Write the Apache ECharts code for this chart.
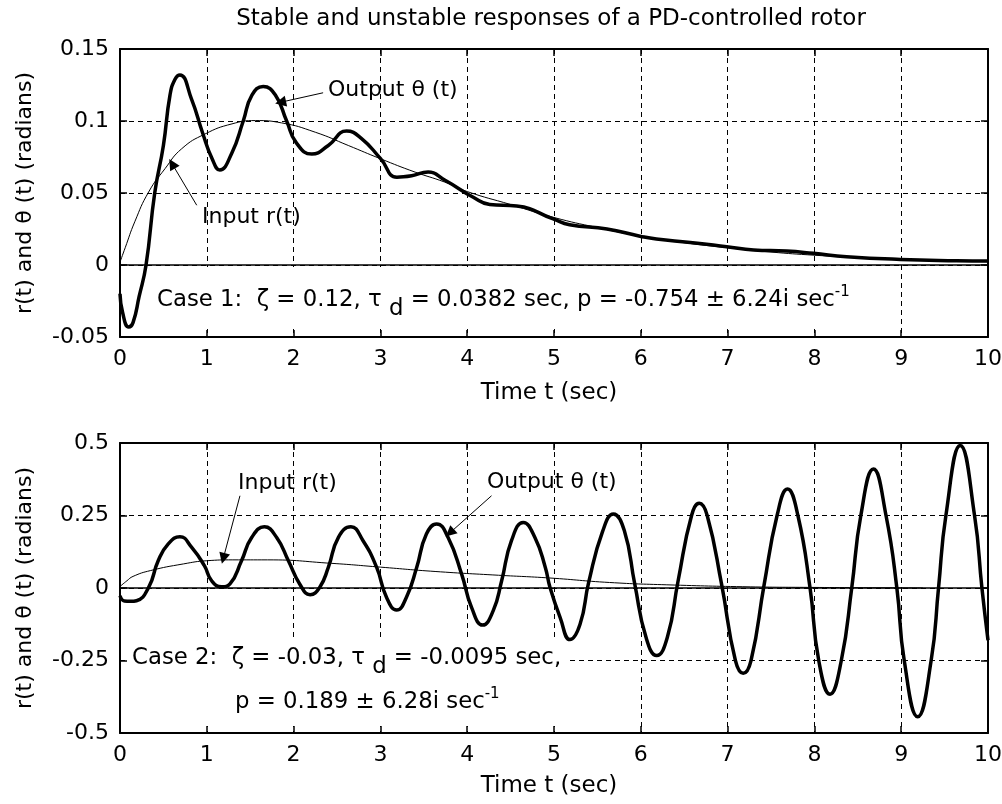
<!DOCTYPE html>
<html>
<head>
<meta charset="utf-8">
<script src="https://cdn.jsdelivr.net/npm/echarts@6/dist/echarts.min.js"></script>
<style>
  html, body { margin: 0; padding: 0; background: #fff; }
  #chart { width: 1002px; height: 804px; }
</style>
</head>
<body>
<div id="chart"></div>
<script>
// Case 1 (stable): output theta(t)
const case1Time = [0, 0.03, 0.10, 0.15, 0.22, 0.30, 0.40, 0.50, 0.576, 0.634, 0.69, 0.825, 0.95, 1.06, 1.15, 1.29,
  1.42, 1.52, 1.65, 1.79, 1.92, 2.03, 2.21, 2.40, 2.61, 2.78, 3.00, 3.19, 3.36, 3.55, 3.74, 4.07, 4.26, 4.57,
  4.99, 5.18, 5.61, 5.99, 6.18, 6.57, 6.99, 7.30, 7.68, 7.99, 8.37, 8.99, 9.64, 10];
const case1Theta = [-0.020, -0.033, -0.043, -0.040, -0.022, 0.000, 0.050, 0.083, 0.118, 0.129, 0.132, 0.115, 0.092,
  0.074, 0.066, 0.078, 0.100, 0.118, 0.124, 0.118, 0.100, 0.085, 0.077, 0.083, 0.093, 0.088, 0.074, 0.061, 0.062,
  0.0645, 0.059, 0.047, 0.042, 0.041, 0.032, 0.028, 0.025, 0.020, 0.018, 0.0157, 0.0127, 0.0104, 0.0097, 0.0081,
  0.0058, 0.0039, 0.003, 0.0028];

// Case 1: input r(t)
const case1InputTime = [0, 0.06, 0.17, 0.33, 0.52, 0.71, 0.98, 1.29, 1.56, 1.86, 2.25, 2.63, 3.00, 3.40, 3.74,
  4.0, 4.5, 5.0, 5.5, 6.0, 6.5, 7.0, 7.5, 8.0, 8.5, 9.0, 9.5, 10];
const case1Input = [0.002, 0.012, 0.030, 0.0507, 0.067, 0.0807, 0.091, 0.098, 0.1003, 0.0987, 0.0922, 0.083, 0.0738,
  0.0645, 0.0576, 0.051, 0.042, 0.033, 0.026, 0.020, 0.0155, 0.012, 0.009, 0.0068, 0.0052, 0.0039, 0.003, 0.0023];

// Case 2 (unstable): output theta(t)
const case2Time = [0, 0.05, 0.12, 0.19, 0.33, 0.44, 0.556, 0.69, 0.826, 0.972, 1.056, 1.17, 1.267, 1.40, 1.517,
  1.663, 1.805, 1.94, 2.07, 2.19, 2.30, 2.40, 2.515, 2.66, 2.80, 2.957, 3.07, 3.187, 3.30, 3.418, 3.53, 3.648, 3.78,
  3.936, 4.05, 4.178, 4.30, 4.397, 4.51, 4.646, 4.78, 4.90, 4.954, 5.07, 5.184, 5.30, 5.40, 5.56, 5.684, 5.81, 5.93,
  6.06, 6.183, 6.306, 6.43, 6.585, 6.674, 6.765, 6.93, 7.09, 7.18, 7.27, 7.42, 7.57, 7.69, 7.81, 7.95, 8.05, 8.18,
  8.31, 8.43, 8.535, 8.68, 8.825, 8.95, 9.035, 9.19, 9.345, 9.43, 9.515, 9.68, 9.845, 9.93, 10];
const case2Theta = [-0.027, -0.045, -0.046, -0.044, 0.002, 0.094, 0.152, 0.177, 0.140, 0.077, 0.025, 0.004, 0.014,
  0.094, 0.174, 0.211, 0.174, 0.094, 0.014, -0.023, 0.002, 0.071, 0.174, 0.211, 0.163, 0.071, -0.032, -0.076, -0.032,
  0.071, 0.186, 0.221, 0.174, 0.048, -0.067, -0.128, -0.078, 0.025, 0.163, 0.226, 0.174, 0.071, 0.002, -0.101,
  -0.178, -0.125, 0.02, 0.195, 0.255, 0.198, 0.014, -0.170, -0.233, -0.170, 0.025, 0.25, 0.292, 0.25, 0.014, -0.25,
  -0.294, -0.25, 0.01, 0.25, 0.341, 0.25, 0.0, -0.25, -0.366, -0.25, 0.0, 0.25, 0.410, 0.25, 0.0, -0.25, -0.444,
  -0.25, 0.0, 0.25, 0.491, 0.25, 0.0, -0.18];

// Case 2: input r(t)
const case2InputTime = [0, 0.08, 0.15, 0.35, 0.73, 1.0, 1.3, 1.7, 2.44, 3.0, 3.63, 4.36, 4.95, 5.64, 6.3, 7.26, 8.0, 9.25];
const case2Input = [0.005, 0.025, 0.040, 0.060, 0.083, 0.094, 0.097, 0.097, 0.085, 0.072, 0.057, 0.044, 0.0345,
  0.019, 0.011, 0.004, 0.002, 0.0];

// Axis ticks
const timeTicks = [0, 1, 2, 3, 4, 5, 6, 7, 8, 9, 10];
const case1Ticks = [-0.05, 0, 0.05, 0.1, 0.15];
const case2Ticks = [-0.5, -0.25, 0, 0.25, 0.5];

const FONT = 'DejaVu Sans';
const FS = 22;        // tick labels, y-axis title, curve labels
const FS_TEXT = 23;   // title, x-axis title
const FS_CASE = 22.8; // case parameter lines
const SUP_FS = 15;
const zip = (xs, ys) => xs.map((x, i) => [x, ys[i]]);

const gridDash = [5, 4];

function xAxes(gridIndex) {
  const base = {
    type: 'value', gridIndex,
    min: timeTicks[0], max: timeTicks[timeTicks.length - 1], interval: timeTicks[1] - timeTicks[0],
    axisLine: { show: true, onZero: false, lineStyle: { color: '#000', width: 2 } },
    axisTick: { show: true, inside: true, length: 7, lineStyle: { color: '#000', width: 1.5 } }
  };
  return [
    Object.assign({}, base, {
      position: 'bottom',
      axisLabel: { show: true, margin: 11, color: '#000', fontFamily: FONT, fontSize: FS },
      splitLine: { show: true, lineStyle: { color: '#000', width: 1, type: gridDash } }
    }),
    Object.assign({}, base, {
      position: 'top',
      axisLabel: { show: false },
      splitLine: { show: false }
    })
  ];
}

function yAxes(gridIndex, ticks) {
  const base = {
    type: 'value', gridIndex,
    min: ticks[0], max: ticks[ticks.length - 1], interval: ticks[1] - ticks[0],
    axisLine: { show: true, onZero: false, lineStyle: { color: '#000', width: 2 } },
    axisTick: { show: true, inside: true, length: 7, lineStyle: { color: '#000', width: 1.5 } }
  };
  return [
    Object.assign({}, base, {
      position: 'left',
      axisLabel: { show: true, margin: 11, color: '#000', fontFamily: FONT, fontSize: FS },
      splitLine: { show: true, lineStyle: { color: '#000', width: 1, type: gridDash } }
    }),
    Object.assign({}, base, {
      position: 'right',
      axisLabel: { show: false },
      splitLine: { show: false }
    })
  ];
}

function arrow(from, to) {
  return [{ coord: from, symbol: 'none' }, { coord: to, symbol: 'triangle', symbolSize: 11 }];
}

const arrowStyle = {
  silent: true,
  animation: false,
  symbol: ['none', 'triangle'],
  symbolSize: 11,
  label: { show: false },
  itemStyle: { color: '#000' },
  lineStyle: { color: '#000', width: 1, type: 'solid' },
  emphasis: { disabled: true }
};

const zeroLine = {
  silent: true,
  animation: false,
  symbol: ['none', 'none'],
  label: { show: false },
  lineStyle: { color: '#000', width: 1.5, type: 'solid' },
  emphasis: { disabled: true },
  data: [{ yAxis: 0 }]
};

const fontOf = (size) => size + 'px "' + FONT + '"';

function txt(text, x, y, opts) {
  opts = opts || {};
  return {
    type: 'text', x, y, z: 5, silent: true,
    rotation: opts.rotation || 0,
    style: {
      text, fill: '#000', font: fontOf(opts.size || FS),
      align: opts.align || 'left', verticalAlign: 'middle',
      textAlign: opts.align || 'left', textVerticalAlign: 'middle'
    }
  };
}

// Lay out a line of text with subscript / superscript pieces, measured with the canvas font metrics
const measureCtx = document.createElement('canvas').getContext('2d');
function textWidth(s, size) {
  measureCtx.font = fontOf(size);
  return measureCtx.measureText(s).width;
}
function scriptLine(parts, x, y) {
  const out = [];
  let cx = x;
  parts.forEach(([s, kind]) => {
    const size = kind === 'sup' ? SUP_FS : FS_CASE;
    const dy = kind === 'sub' ? 9 : kind === 'sup' ? -8 : 0;
    out.push(txt(s, cx, y + dy, { size }));
    cx += textWidth(s, size);
  });
  return out;
}

const chart = echarts.init(document.getElementById('chart'), null, { renderer: 'canvas' });

chart.setOption({
  animation: false,
  backgroundColor: '#fff',
  grid: [
    { left: 120, top: 49, width: 868, height: 288, containLabel: false, outerBoundsMode: 'none' },
    { left: 120, top: 443, width: 868, height: 290, containLabel: false, outerBoundsMode: 'none' }
  ],
  xAxis: [...xAxes(0), ...xAxes(1)],
  yAxis: [...yAxes(0, case1Ticks), ...yAxes(1, case2Ticks)],
  series: [
    {
      name: 'Input r(t), case 1', type: 'line', xAxisIndex: 0, yAxisIndex: 0,
      data: zip(case1InputTime, case1Input), smooth: true, symbol: 'none',
      lineStyle: { color: '#000', width: 1 }, z: 3,
      markLine: zeroLine
    },
    {
      name: 'Output θ(t), case 1', type: 'line', xAxisIndex: 0, yAxisIndex: 0,
      data: zip(case1Time, case1Theta), smooth: true, symbol: 'none',
      lineStyle: { color: '#000', width: 3.5 }, z: 4,
      markLine: Object.assign({}, arrowStyle, {
        data: [arrow([2.34, 0.1196], [1.85, 0.113]), arrow([0.884, 0.0415], [0.60, 0.0703])]
      })
    },
    {
      name: 'Input r(t), case 2', type: 'line', xAxisIndex: 2, yAxisIndex: 2,
      data: zip(case2InputTime, case2Input), smooth: true, symbol: 'none',
      lineStyle: { color: '#000', width: 1 }, z: 3,
      markLine: zeroLine
    },
    {
      name: 'Output θ(t), case 2', type: 'line', xAxisIndex: 2, yAxisIndex: 2,
      data: zip(case2Time, case2Theta), smooth: true, symbol: 'none',
      lineStyle: { color: '#000', width: 3.5 }, z: 4,
      markLine: Object.assign({}, arrowStyle, {
        data: [arrow([1.382, 0.318], [1.19, 0.102]), arrow([4.28, 0.318], [3.80, 0.19])]
      })
    }
  ],
  graphic: {
    elements: [
      // white boxes behind the case annotations
      { type: 'rect', z: 1, silent: true, shape: { x: 150, y: 267, width: 716, height: 62 }, style: { fill: '#fff' } },
      { type: 'rect', z: 1, silent: true, shape: { x: 127, y: 637, width: 440, height: 89 }, style: { fill: '#fff' } },

      txt('Stable and unstable responses of a PD-controlled rotor', 551, 19, { align: 'center', size: FS_TEXT }),

      txt('Time t (sec)', 549, 393, { align: 'center', size: FS_TEXT }),
      txt('Time t (sec)', 549, 786, { align: 'center', size: FS_TEXT }),

      txt('r(t) and θ (t) (radians)', 25, 193, { align: 'center', rotation: Math.PI / 2 }),
      txt('r(t) and θ (t) (radians)', 25, 588, { align: 'center', rotation: Math.PI / 2 }),

      txt('Output θ (t)', 328, 90),
      txt('Input r(t)', 202, 217),
      txt('Input r(t)', 238, 483),
      txt('Output θ (t)', 487, 482),

      ...scriptLine([['Case 1:  ζ = 0.12, τ ', 'n'], ['d', 'sub'],
        [' = 0.0382 sec, p = -0.754 ± 6.24i sec', 'n'], ['-1', 'sup']], 157, 300),
      ...scriptLine([['Case 2:  ζ = -0.03, τ ', 'n'], ['d', 'sub'], [' = -0.0095 sec,', 'n']], 132, 658),
      ...scriptLine([['p = 0.189 ± 6.28i sec', 'n'], ['-1', 'sup']], 235, 702)
    ]
  }
});
</script>
</body>
</html>
